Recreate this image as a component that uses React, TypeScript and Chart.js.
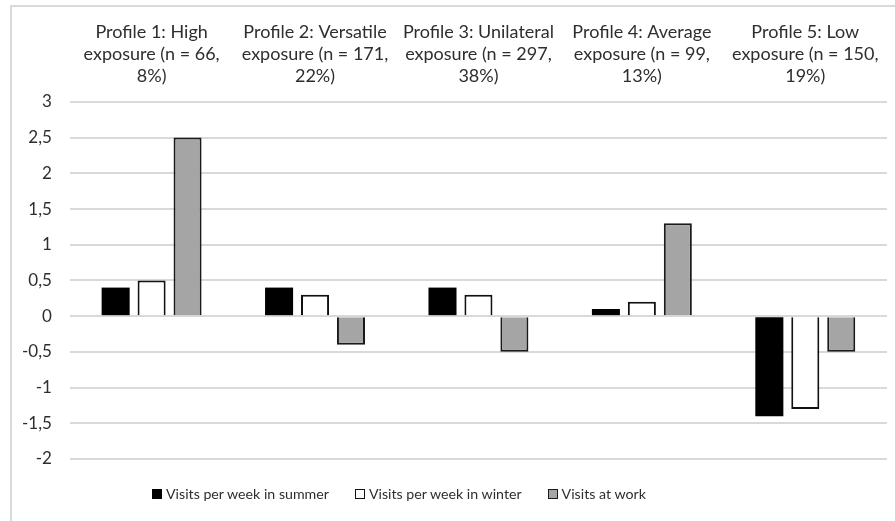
import React, { useEffect, useRef } from "react";
import { Chart, registerables } from "chart.js";

Chart.register(...registerables);

const categories: string[][] = [
  ["Profile 1: High", "exposure (n = 66,", "8%)"],
  ["Profile 2: Versatile", "exposure (n = 171,", "22%)"],
  ["Profile 3: Unilateral", "exposure (n = 297,", "38%)"],
  ["Profile 4: Average", "exposure (n = 99,", "13%)"],
  ["Profile 5: Low", "exposure (n = 150,", "19%)"],
];
const summerVisits = [0.4, 0.4, 0.4, 0.1, -1.4];
const winterVisits = [0.5, 0.3, 0.3, 0.2, -1.3];
const workVisits = [2.5, -0.4, -0.5, 1.3, -0.5];
const seriesNames = ["Visits per week in summer", "Visits per week in winter", "Visits at work"];
const seriesFill = ["#000000", "#ffffff", "#a5a5a5"];
const seriesBorder = ["#000000", "#111111", "#1a1a1a"];

const FONT = "Lato, 'Open Sans', sans-serif";
const TEXT = "#2e2e2e";

export default function App() {
  const ref = useRef<HTMLCanvasElement>(null);
  useEffect(() => {
    if (!ref.current) return;
    const chart = new Chart(ref.current, {
      type: "bar",
      data: {
        labels: categories,
        datasets: [summerVisits, winterVisits, workVisits].map((d, i) => ({
          label: seriesNames[i],
          data: d,
          backgroundColor: seriesFill[i],
          borderColor: seriesBorder[i],
          borderWidth: i === 0 ? 0 : 2,
        })),
      },
      options: {
        animation: false,
        responsive: false,
        maintainAspectRatio: false,
        datasets: { bar: { categoryPercentage: 0.66, barPercentage: 0.78 } },
        layout: { padding: { top: 14, left: 4, right: 8, bottom: 62 } },
        plugins: {
          legend: { display: false },
          tooltip: { enabled: false },
        },
        scales: {
          x: {
            position: "top",
            grid: { display: false },
            border: { display: false },
            ticks: {
              color: TEXT,
              font: { family: FONT, size: 18, lineHeight: 1.22 },
              maxRotation: 0,
              autoSkip: false,
              padding: 7,
            },
          },
          y: {
            min: -2,
            max: 3,
            grid: { color: "#d9d9d9", lineWidth: 2, drawTicks: false },
            border: { display: false },
            ticks: {
              stepSize: 0.5,
              padding: 18,
              color: TEXT,
              font: { family: FONT, size: 17 },
              callback: (v: any) => String(v).replace(".", ","),
            },
          },
        },
      },
    });
    return () => chart.destroy();
  }, []);
  return (
    <div style={{ position: "fixed", left: 0, top: 0, width: 895, height: 521, overflow: "hidden", background: "#fff" }}>
      <div style={{ position: "absolute", left: 10, top: 5, width: 900, height: 540, border: "2px solid #d9d9d9" }} />
      <canvas ref={ref} width={895} height={521} style={{ position: "absolute", left: 0, top: 0 }} />
      <div
        style={{
          position: "absolute",
          left: 152,
          top: 484,
          display: "flex",
          alignItems: "center",
          fontFamily: FONT,
          fontSize: 14.2,
          color: TEXT,
          lineHeight: "20px",
        }}
      >
        {seriesNames.map((name, i) => (
          <div key={name} style={{ display: "flex", alignItems: "center", marginRight: i < 2 ? 26 : 0 }}>
            <span
              style={{
                display: "inline-block",
                width: i === 0 ? 10 : 8,
                height: i === 0 ? 10 : 8,
                background: seriesFill[i],
                border: i === 0 ? "none" : `1.5px solid ${seriesBorder[i]}`,
                marginRight: 4,
              }}
            />
            <span>{name}</span>
          </div>
        ))}
      </div>
    </div>
  );
}
